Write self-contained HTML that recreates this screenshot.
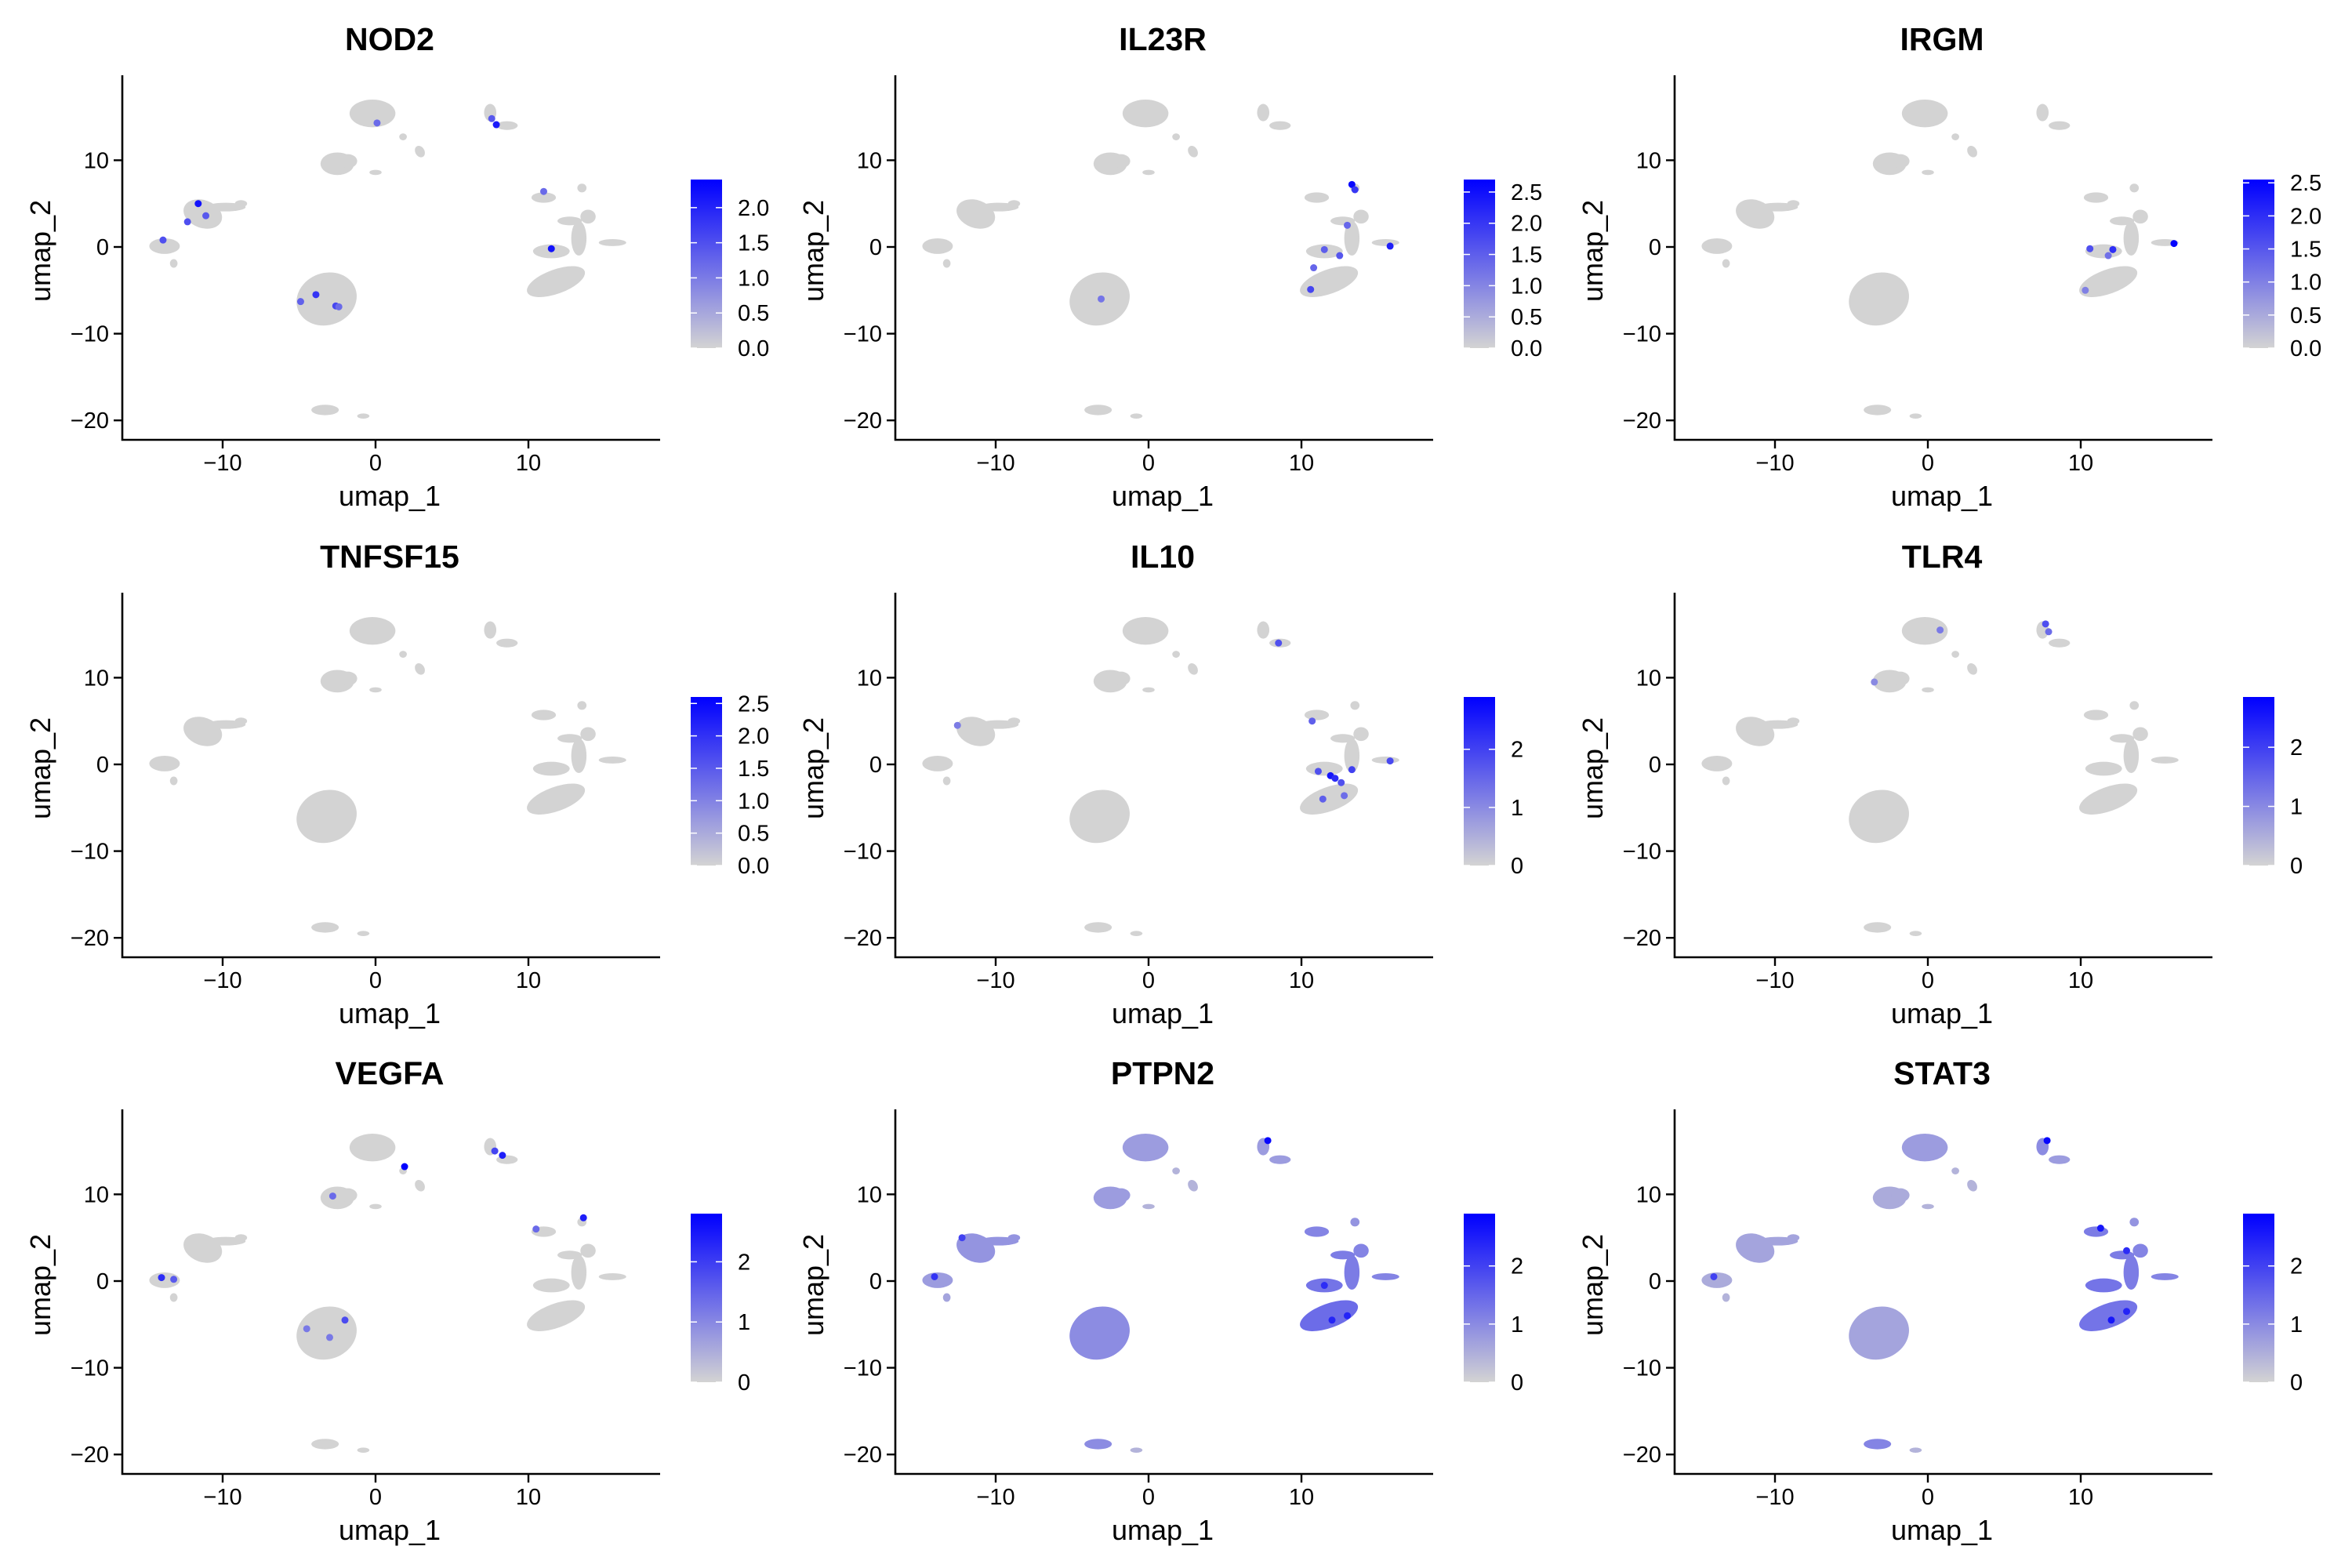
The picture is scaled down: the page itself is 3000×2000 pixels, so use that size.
<!DOCTYPE html>
<html><head><meta charset="utf-8"><style>
html,body{margin:0;padding:0;background:#fff}
svg{display:block;font-family:"Liberation Sans",sans-serif}
</style></head><body>
<svg id="fig" width="3000" height="2000" viewBox="0 0 3000 2000" xmlns="http://www.w3.org/2000/svg">
<defs>
<linearGradient id="cbar" x1="0" y1="1" x2="0" y2="0">
<stop offset="0" stop-color="#d3d3d3"/><stop offset="1" stop-color="#0000ff"/>
</linearGradient>
</defs>
</svg>
<script>
// ----- data -----
const genes = ["NOD2","IL23R","IRGM","TNFSF15","IL10","TLR4","VEGFA","PTPN2","STAT3"];
const colorMax = [2.4,2.7,2.55,2.6,2.9,2.85,2.8,2.9,2.9];
const colorTicks = [[0,0.5,1,1.5,2],[0,0.5,1,1.5,2,2.5],[0,0.5,1,1.5,2,2.5],[0,0.5,1,1.5,2,2.5],[0,1,2],[0,1,2],[0,1,2],[0,1,2],[0,1,2]];
const colorTickLabels = [["0.0","0.5","1.0","1.5","2.0"],["0.0","0.5","1.0","1.5","2.0","2.5"],["0.0","0.5","1.0","1.5","2.0","2.5"],["0.0","0.5","1.0","1.5","2.0","2.5"],["0","1","2"],["0","1","2"],["0","1","2"],["0","1","2"],["0","1","2"]];
const xTicks = [-10,0,10];
const yTicks = [-20,-10,0,10];
// cluster shapes in umap coords: cx, cy, rx, ry, rotation
const clusterX = [-3.2,-11.3,-9.8,-8.8,-13.8,-13.2,-0.2,-2.5,-1.8,0,1.8,2.9,7.5,8.6,11.8,11.5,13.3,13.9,15.5,12.7,11,13.5,-3.3,-0.8];
const clusterY = [-6,3.8,4.6,5,0.1,-1.9,15.4,9.6,9.9,8.6,12.7,11,15.5,14,-4,-0.5,1,3.5,0.5,3,5.7,6.8,-18.8,-19.5];
const clusterRX = [2,1.3,1.3,0.4,1,0.25,1.5,1.1,0.6,0.4,0.25,0.3,0.4,0.7,2,1.2,0.5,0.5,0.9,0.8,0.8,0.3,0.9,0.4];
const clusterRY = [3,1.6,0.5,0.4,0.9,0.5,1.6,1.3,0.8,0.3,0.4,0.7,1,0.5,1.4,0.8,2,0.8,0.4,0.5,0.6,0.5,0.6,0.3];
const clusterRot = [-20,20,0,0,0,0,0,0,0,0,0,-30,0,0,-20,0,0,0,0,0,0,0,0,0];
// fraction of expressing cells per panel & cluster (only PTPN2, STAT3 widespread)
const ptpn2Frac = [0.45,0.4,0.4,0.4,0.35,0.3,0.35,0.35,0.35,0.2,0.2,0.2,0.35,0.35,0.65,0.6,0.55,0.5,0.5,0.55,0.5,0.4,0.45,0.2];
const stat3Frac = [0.3,0.3,0.3,0.3,0.25,0.2,0.35,0.25,0.25,0.2,0.2,0.2,0.45,0.35,0.6,0.6,0.55,0.5,0.5,0.55,0.55,0.4,0.5,0.2];
// highlighted cells: [x, y, value]
const nod2Hits = [[-11.6,5.0,2.2],[-12.3,2.9,1.5],[-11.1,3.6,1.4],[-13.9,0.8,1.5],[-3.9,-5.5,1.8],[-4.9,-6.3,1.3],[-2.6,-6.8,1.6],[-2.4,-6.9,1.2],[7.6,14.8,1.4],[7.9,14.1,2.1],[11.5,-0.2,2.2],[11.0,6.4,1.2],[0.1,14.3,1.2]];
const il23rHits = [[13.3,7.2,2.6],[13.5,6.6,2.0],[10.6,-4.9,1.8],[10.8,-2.4,1.4],[15.8,0.1,2.3],[11.5,-0.3,1.5],[12.5,-1,1.6],[-3.1,-6,1.2],[13,2.5,1.4]];
const irgmHits = [[16.1,0.4,2.5],[12.1,-0.3,2.0],[10.6,-0.2,1.6],[11.8,-1,1.2],[10.3,-5.0,1.0]];
const tnfsf15Hits = [];
const il10Hits = [[11.9,-1.3,2.6],[12.2,-1.6,2.3],[11.1,-0.8,1.8],[13.3,-0.6,2.0],[12.6,-2.1,1.8],[10.7,5.0,1.6],[8.5,14.0,1.8],[11.4,-4,1.6],[12.8,-3.6,1.4],[15.8,0.4,1.9],[-12.5,4.5,1.2]];
const tlr4Hits = [[7.7,16.2,1.8],[7.9,15.3,1.4],[0.8,15.5,1.2],[-3.5,9.5,1.0]];
const vegfaHits = [[1.9,13.2,2.8],[8.3,14.5,2.4],[7.8,15,1.9],[13.6,7.3,2.4],[-14.0,0.4,2.2],[-13.2,0.2,1.6],[-2,-4.5,1.8],[-3,-6.5,1.2],[-4.5,-5.5,1.2],[-2.8,9.8,1.4],[10.5,6.0,1.4]];
const ptpn2Hits = [[7.8,16.2,2.8],[-14,0.5,2.2],[-12.2,5,2.0],[12,-4.5,2.4],[13,-4,2.4],[11.5,-0.5,2.3]];
const stat3Hits = [[7.8,16.2,2.8],[-14,0.5,2.0],[12,-4.5,2.6],[13,-3.5,2.4],[11.3,6.1,2.6],[13,3.5,2.3]];
const hits = [nod2Hits,il23rHits,irgmHits,tnfsf15Hits,il10Hits,tlr4Hits,vegfaHits,ptpn2Hits,stat3Hits];
const fracs = [null,null,null,null,null,null,null,ptpn2Frac,stat3Frac];

// ----- drawing -----
const NS="http://www.w3.org/2000/svg";
const svg=document.getElementById('fig');
function mk(tag,attrs,parent){const e=document.createElementNS(NS,tag);for(const k in attrs)e.setAttribute(k,attrs[k]);(parent||svg).appendChild(e);return e;}
function mix(t){const a=[211,211,211],b=[0,0,255];const c=a.map((v,i)=>Math.round(v+(b[i]-v)*t));return `rgb(${c[0]},${c[1]},${c[2]})`;}
const colOff=[0,986,1980], rowOff=[0,660,1319];
genes.forEach((g,i)=>{
  const ox=colOff[i%3], oy=rowOff[Math.floor(i/3)];
  const grp=mk('g',{transform:`translate(${ox},${oy})`});
  
  
  const xs=v=>479+v*19.5, ys=v=>315-v*11.06;
  const t=mk('text',{x:497,y:64,'text-anchor':'middle','font-size':41,'font-weight':'bold'},grp);t.textContent=g;
  
  
  const cg=mk('g',{},grp);
  
  
  clusterX.forEach((cx,k)=>{
    let fill='#d3d3d3';
    if(fracs[i]) fill=mix(fracs[i][k]*0.75);
    const e=mk('ellipse',{cx:xs(cx),cy:ys(clusterY[k]),rx:clusterRX[k]*19.5,ry:clusterRY[k]*11.06,fill:fill,transform:`rotate(${clusterRot[k]} ${xs(cx)} ${ys(clusterY[k])})`},cg);
    
    
  });
  hits[i].forEach(h=>{
    const c=mk('circle',{cx:xs(h[0]),cy:ys(h[1]),r:4.5,fill:mix(Math.min(1,h[2]/colorMax[i]))},grp);
    
    
  });
  const ax=mk('path',{d:'M156,96 V561 H842',fill:'none',stroke:'#000','stroke-width':2.6},grp);
  
  
  xTicks.forEach(v=>{
    mk('line',{x1:xs(v),x2:xs(v),y1:561,y2:572,stroke:'#000','stroke-width':2.4},grp);
    const tt=mk('text',{x:xs(v),y:600,'text-anchor':'middle','font-size':29},grp);tt.textContent=v<0?'\u2212'+(-v):v;
    
    
  });
  yTicks.forEach(v=>{
    mk('line',{x1:145,x2:156,y1:ys(v),y2:ys(v),stroke:'#000','stroke-width':2.4},grp);
    const tt=mk('text',{x:139,y:ys(v)+10,'text-anchor':'end','font-size':29},grp);tt.textContent=v<0?'\u2212'+(-v):v;
    
    
  });
  const xt=mk('text',{x:497,y:645,'text-anchor':'middle','font-size':36},grp);xt.textContent='umap_1';
  
  
  const yt=mk('text',{x:0,y:0,'text-anchor':'middle','font-size':36,transform:'translate(64,320) rotate(-90)'},grp);yt.textContent='umap_2';
  
  
  const cb=mk('rect',{x:881,y:229,width:40,height:215,fill:'url(#cbar)'},grp);
  
  
  colorTicks[i].forEach((v,k)=>{
    const y=444-v/colorMax[i]*215;
    mk('line',{x1:881,x2:889,y1:y,y2:y,stroke:'#fff','stroke-width':1.5},grp);
    mk('line',{x1:913,x2:921,y1:y,y2:y,stroke:'#fff','stroke-width':1.5},grp);
    const tt=mk('text',{x:941,y:y+10,'font-size':29},grp);tt.textContent=colorTickLabels[i][k];
    
    
  });
});
</script>
</body></html>
